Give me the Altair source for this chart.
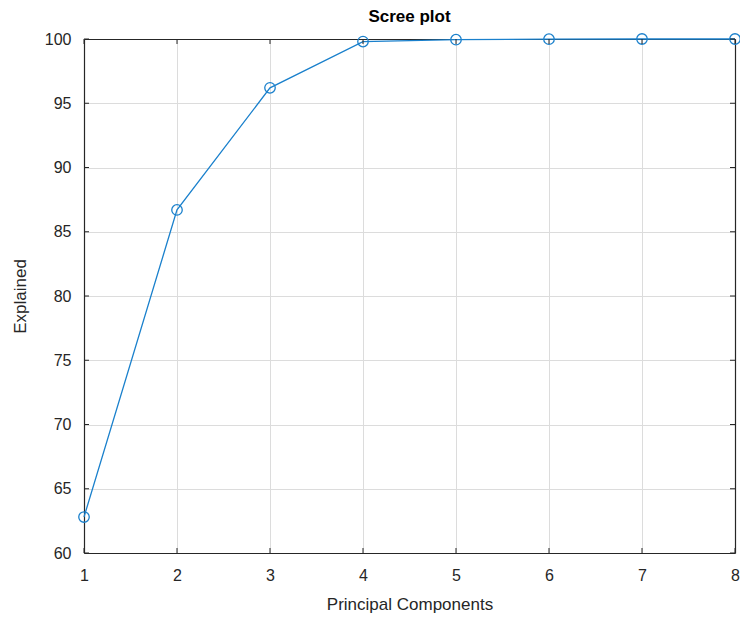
import altair as alt
import pandas as pd

components = [1, 2, 3, 4, 5, 6, 7, 8]
explained = [62.8, 86.7, 96.2, 99.8, 99.95, 99.99, 100.0, 100.0]
x_ticks = [1, 2, 3, 4, 5, 6, 7, 8]
y_ticks = [60, 65, 70, 75, 80, 85, 90, 95, 100]

df = pd.DataFrame({"pc": components, "exp": explained})
xt = pd.DataFrame({"t": x_ticks})
yt = pd.DataFrame({"t": y_ticks})

W, H = 651, 514
FONT = "Liberation Sans"
AX = "#262626"
COL = "#1A80CC"

xs = alt.Scale(domain=[1, 8], nice=False, zero=False)
ys = alt.Scale(domain=[60, 100], nice=False, zero=False)

xaxis = alt.Axis(values=x_ticks, title="Principal Components", grid=True, gridColor="#dcdcdc",
                 gridWidth=1, ticks=False, domain=True, domainColor=AX, domainWidth=1.2,
                 labelFont=FONT, labelFontSize=16, labelFlush=False, labelOverlap=False,
                 labelColor=AX, labelPadding=14, titleFont=FONT, titleFontSize=17,
                 titleFontWeight="normal", titleColor=AX, titlePadding=13, format="d")
yaxis = alt.Axis(values=y_ticks, title="Explained", grid=True, gridColor="#dcdcdc",
                 gridWidth=1, ticks=False, domain=True, domainColor=AX, domainWidth=1.2,
                 labelFont=FONT, labelFontSize=16, labelFlush=False, labelOverlap=False,
                 labelColor=AX, labelPadding=13, titleFont=FONT, titleFontSize=17,
                 titleFontWeight="normal", titleColor=AX, titlePadding=15, format="d")

line = alt.Chart(df).mark_line(color=COL, strokeWidth=1.3).encode(
    x=alt.X("pc:Q", scale=xs, axis=xaxis),
    y=alt.Y("exp:Q", scale=ys, axis=yaxis),
)
pts = alt.Chart(df).mark_point(shape="circle", filled=False, color=COL, size=110, strokeWidth=1.3, opacity=1).encode(
    x=alt.X("pc:Q", scale=xs),
    y=alt.Y("exp:Q", scale=ys),
)

tk = 5
xb = alt.Chart(xt).mark_rule(color=AX, strokeWidth=1).encode(
    x=alt.X("t:Q", scale=xs), y=alt.value(H), y2=alt.value(H - tk))
xtop = alt.Chart(xt).mark_rule(color=AX, strokeWidth=1).encode(
    x=alt.X("t:Q", scale=xs), y=alt.value(0), y2=alt.value(tk))
yl = alt.Chart(yt).mark_rule(color=AX, strokeWidth=1).encode(
    y=alt.Y("t:Q", scale=ys), x=alt.value(0), x2=alt.value(tk))
yr = alt.Chart(yt).mark_rule(color=AX, strokeWidth=1).encode(
    y=alt.Y("t:Q", scale=ys), x=alt.value(W), x2=alt.value(W - tk))

box_axis = dict(labels=False, ticks=False, grid=False, title=None, domain=True,
                domainColor=AX, domainWidth=1.2)
frame = alt.Chart(df).mark_point(opacity=0).encode(
    x=alt.X("pc:Q", scale=xs, axis=alt.Axis(orient="top", **box_axis)),
    y=alt.Y("exp:Q", scale=ys, axis=alt.Axis(orient="right", **box_axis)),
)

main = alt.layer(line, pts, xb, xtop, yl, yr)
chart = alt.layer(main, frame).resolve_scale(x="independent", y="independent").properties(
    width=W, height=H,
    title=alt.TitleParams("Scree plot", font=FONT, fontSize=17, fontWeight="bold", color="#000000", offset=5),
    autosize=alt.AutoSizeParams(type="none"),
    padding={"left": 84, "top": 39, "right": 5, "bottom": 66},
).configure_view(stroke=None).configure(background="white")

chart.save("out.html", embed_options={"renderer": "svg", "actions": False})
